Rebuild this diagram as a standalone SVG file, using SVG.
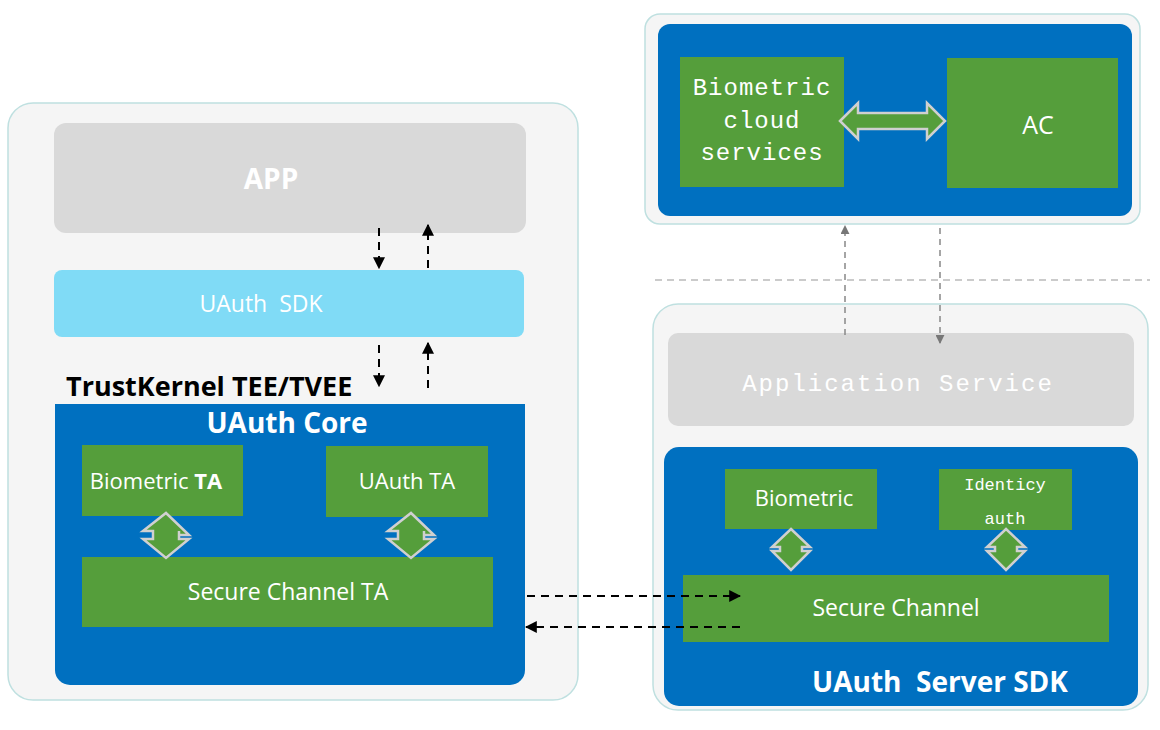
<svg xmlns="http://www.w3.org/2000/svg" width="1160" height="730" viewBox="0 0 1160 730">
<defs>
<style>
.outer{fill:#f5f5f5;stroke:#bfe0e0;stroke-width:1.5}
.blue{fill:#0070c0}
.green{fill:#559e3b}
.t{font-family:"Segoe UI","Open Sans","Liberation Sans",sans-serif;fill:#fff;text-anchor:middle}
.m{font-family:"Liberation Mono","DejaVu Sans Mono",monospace;fill:#fff;text-anchor:middle}
.dk{stroke:#000;stroke-width:2;stroke-dasharray:8,6;fill:none}
.dg{stroke:#888;stroke-width:1.5;stroke-dasharray:6,5;fill:none}
.dbl{fill:#559e3b;stroke:#d0d0d0;stroke-width:2.5}
</style>
<marker id="ab" viewBox="0 0 10 10" refX="9" refY="5" markerWidth="6" markerHeight="6" orient="auto"><path d="M0,0L10,5L0,10z" fill="#000"/></marker>
<marker id="ag" viewBox="0 0 10 10" refX="9" refY="5" markerWidth="6" markerHeight="6" orient="auto"><path d="M0,0L10,5L0,10z" fill="#777"/></marker>
</defs>
<rect width="1160" height="730" fill="#fff"/>
<g id="left">
<rect class="outer" x="8" y="103" width="570" height="597" rx="25"/>
</g>
<g id="app"><rect x="54" y="123" width="472" height="110" rx="12" fill="#d9d9d9"/><text class="t" x="271" y="189" font-size="28" font-weight="bold">APP</text></g>
<g id="sdk"><rect x="54" y="270" width="470" height="67" rx="8" fill="#80dbf6"/><text class="t" x="261" y="312" font-size="23">UAuth&#160; SDK</text></g>
<text x="66" y="396" font-family="'Segoe UI','Open Sans','Liberation Sans',sans-serif" font-size="27" font-weight="bold" fill="#000">TrustKernel TEE/TVEE</text>
<g id="core"><path class="blue" d="M55,404H525V670a15,15 0 0 1 -15,15H70a15,15 0 0 1 -15,-15Z"/><text class="t" x="287" y="433" font-size="28" font-weight="bold">UAuth Core</text></g>
<g id="bioTA"><rect class="green" x="82" y="445" width="161" height="71"/><text class="t" x="156" y="489" font-size="22">Biometric <tspan font-weight="bold">TA</tspan></text></g>
<g id="uauthTA"><rect class="green" x="326" y="446" width="162" height="71"/><text class="t" x="407" y="489" font-size="22">UAuth TA</text></g>
<g id="scTA"><rect class="green" x="82" y="557" width="411" height="70"/><text class="t" x="288" y="600" font-size="23">Secure Channel TA</text></g>
<g id="cloudbox"><rect class="outer" x="645" y="14" width="495" height="210" rx="15"/><rect class="blue" x="658" y="24" width="474" height="192" rx="12"/></g>
<g id="bcs"><rect class="green" x="680" y="57" width="164" height="130"/><text class="m" x="762" y="95" font-size="24" letter-spacing="1">Biometric</text><text class="m" x="762" y="128" font-size="24" letter-spacing="1">cloud</text><text class="m" x="762" y="160" font-size="24" letter-spacing="1">services</text></g>
<g id="ac"><rect class="green" x="947" y="58" width="171" height="130"/><text class="t" x="1038" y="134" font-size="25">AC</text></g>
<g id="appsvc"><rect class="outer" x="653" y="304" width="495" height="406" rx="25"/><rect x="668" y="333" width="466" height="93" rx="10" fill="#d9d9d9"/><text class="m" x="898" y="391" font-size="24" letter-spacing="2">Application Service</text></g>
<g id="server"><rect class="blue" x="664" y="447" width="474" height="259" rx="15"/><text class="t" x="940" y="692" font-size="28" font-weight="bold">UAuth&#160; Server SDK</text></g>
<g id="bio2"><rect class="green" x="725" y="469" width="152" height="60"/><text class="t" x="804" y="506" font-size="22">Biometric</text></g>
<g id="ident"><rect class="green" x="939" y="469" width="133" height="61"/><text class="m" x="1005" y="490" font-size="17">Identicy</text><text class="m" x="1005" y="524" font-size="17">auth</text></g>
<g id="sc"><rect class="green" x="683" y="575" width="426" height="67"/><text class="t" x="896" y="616" font-size="23">Secure Channel</text></g>
<g id="connectors">
<path class="dk" d="M379,228V268" marker-end="url(#ab)"/>
<path class="dk" d="M428,268V225" marker-end="url(#ab)"/>
<path class="dk" d="M379,345V386" marker-end="url(#ab)"/>
<path class="dk" d="M428,388V343" marker-end="url(#ab)"/>
<path class="dk" d="M527,596H740" marker-end="url(#ab)"/>
<path class="dk" d="M740,627H526" marker-end="url(#ab)"/>
<path class="dg" d="M845,335V226" marker-end="url(#ag)"/>
<path class="dg" d="M940,228V343" marker-end="url(#ag)"/>
<path d="M655,280H1150" stroke="#bbb" stroke-width="1.5" stroke-dasharray="7,5"/>
<path class="dbl" d="M166,513L189,535H179V531H179V539H189L166,558L143,539H153V531H143Z"/>
<path class="dbl" d="M411,513L434,535H424V531V539H434L411,558L388,539H398V531H388Z"/>
<path class="dbl" d="M791,529L810,547H802V551H810L791,570L772,551H780V547H772Z"/>
<path class="dbl" d="M1006,529L1025,547H1017V551H1025L1006,570L987,551H995V547H987Z"/>
<path class="dbl" d="M840,121L858,103V113H927V103L945,121L927,139V129H858V139Z"/>
</g>
</svg>
